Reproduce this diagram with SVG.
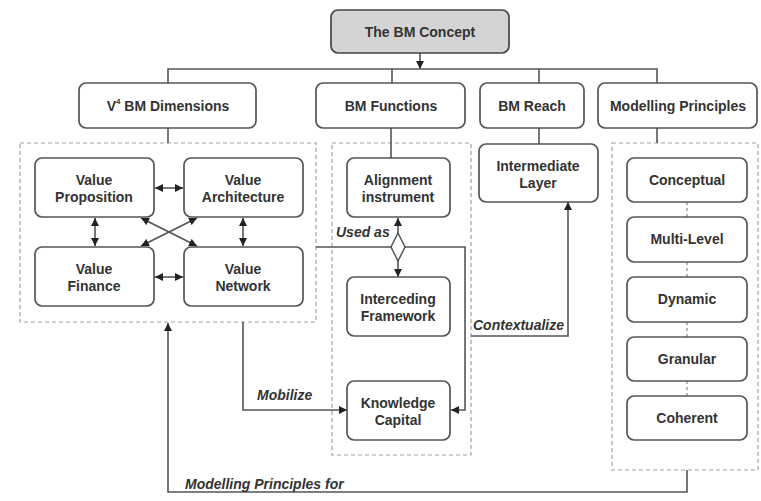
<svg xmlns="http://www.w3.org/2000/svg" width="761" height="501" viewBox="0 0 761 501">
  <defs>
    <style>
      .box { fill: #ffffff; stroke: #555555; stroke-width: 1.7; }
      .root { fill: #d4d4d4; stroke: #444444; stroke-width: 1.7; }
      .group { fill: none; stroke: #a0a0a0; stroke-width: 1.2; stroke-dasharray: 4 3; }
      .line { fill: none; stroke: #555555; stroke-width: 1.6; }
      .dash { fill: none; stroke: #888888; stroke-width: 1.2; stroke-dasharray: 3 3; }
      .lbl { font-family: "Liberation Sans", Arial, sans-serif; font-weight: bold; font-size: 14px; fill: #333333; text-anchor: middle; }
      .edge { font-family: "Liberation Sans", Arial, sans-serif; font-weight: bold; font-style: italic; font-size: 14px; fill: #333333; }
    </style>
    <marker id="arr" viewBox="0 0 10 10" refX="10" refY="5" markerWidth="8" markerHeight="8" orient="auto-start-reverse" markerUnits="userSpaceOnUse">
      <path d="M0,0 L10,5 L0,10 z" fill="#222222"/>
    </marker>
  </defs>

  <!-- group frames -->
  <rect class="group" x="20" y="143" width="296" height="179"/>
  <rect class="group" x="332" y="143" width="139" height="312"/>
  <rect class="group" x="612" y="143" width="146" height="327"/>

  <!-- connectors -->
  <g id="connectors">
    <line class="line" x1="420" y1="53" x2="420" y2="69" marker-end="url(#arr)"/>
    <polyline class="line" points="168,83 168,69 657,69 657,83"/>
    <line class="line" x1="392" y1="69" x2="392" y2="83"/>
    <line class="line" x1="539" y1="69" x2="539" y2="83"/>
    <line class="line" x1="168" y1="128" x2="168" y2="143"/>
    <line class="line" x1="391" y1="128" x2="391" y2="158"/>
    <line class="line" x1="539" y1="128" x2="539" y2="144"/>
    <line class="line" x1="657" y1="128" x2="657" y2="143"/>

    <!-- value dimension links -->
    <line class="line" x1="155" y1="188" x2="183" y2="188" marker-start="url(#arr)" marker-end="url(#arr)"/>
    <line class="line" x1="155" y1="277" x2="183" y2="277" marker-start="url(#arr)" marker-end="url(#arr)"/>
    <line class="line" x1="95" y1="218" x2="95" y2="246" marker-start="url(#arr)" marker-end="url(#arr)"/>
    <line class="line" x1="243" y1="218" x2="243" y2="246" marker-start="url(#arr)" marker-end="url(#arr)"/>
    <line class="line" x1="141" y1="218" x2="197" y2="246" marker-start="url(#arr)" marker-end="url(#arr)"/>
    <line class="line" x1="141" y1="246" x2="197" y2="218" marker-start="url(#arr)" marker-end="url(#arr)"/>

    <!-- used as -->
    <polyline class="line" points="316,247 465,247 465,410 451,410" marker-end="url(#arr)"/>
    <line class="line" x1="398" y1="234" x2="398" y2="218" marker-end="url(#arr)"/>
    <line class="line" x1="398" y1="260" x2="398" y2="277" marker-end="url(#arr)"/>
    <polygon points="398,233 405,247 398,261 391,247" fill="#ffffff" stroke="#555555" stroke-width="1.5"/>

    <!-- mobilize -->
    <polyline class="line" points="243,322 243,410 347,410" marker-end="url(#arr)"/>
    <!-- contextualize -->
    <polyline class="line" points="471,336 568,336 568,202" marker-end="url(#arr)"/>

    <!-- modelling principle chain -->
    <line class="dash" x1="687" y1="202" x2="687" y2="217"/>
    <line class="dash" x1="687" y1="262" x2="687" y2="277"/>
    <line class="dash" x1="687" y1="322" x2="687" y2="337"/>
    <line class="dash" x1="687" y1="381" x2="687" y2="396"/>

    <!-- modelling principles for -->
    <polyline class="line" points="687,470 687,492 168,492 168,323" marker-end="url(#arr)"/>

    <text class="edge" x="336" y="237">Used as</text>
    <text class="edge" x="257" y="400">Mobilize</text>
    <text class="edge" x="473" y="330">Contextualize</text>
    <text class="edge" x="185" y="489">Modelling Principles for</text>
  </g>

  <g id="bm-concept">
    <rect class="root" x="331" y="10" width="178" height="43" rx="7"/>
    <text class="lbl" x="420" y="37">The BM Concept</text>
  </g>

  <g id="v4-dimensions">
    <rect class="box" x="79" y="83" width="177" height="45" rx="7"/>
    <text class="lbl" x="168" y="111">V<tspan font-size="8" dy="-7">4</tspan><tspan dy="7"> BM Dimensions</tspan></text>
  </g>
  <g id="bm-functions">
    <rect class="box" x="316" y="83" width="149" height="45" rx="7"/>
    <text class="lbl" x="391" y="111">BM Functions</text>
  </g>
  <g id="bm-reach">
    <rect class="box" x="480" y="83" width="104" height="45" rx="7"/>
    <text class="lbl" x="532" y="111">BM Reach</text>
  </g>
  <g id="modelling-principles">
    <rect class="box" x="598" y="83" width="159" height="45" rx="7"/>
    <text class="lbl" x="678" y="111">Modelling Principles</text>
  </g>

  <g id="value-proposition">
    <rect class="box" x="35" y="158" width="119" height="59" rx="7"/>
    <text class="lbl" x="94" y="185">Value</text>
    <text class="lbl" x="94" y="202">Proposition</text>
  </g>
  <g id="value-architecture">
    <rect class="box" x="184" y="158" width="119" height="59" rx="7"/>
    <text class="lbl" x="243" y="185">Value</text>
    <text class="lbl" x="243" y="202">Architecture</text>
  </g>
  <g id="value-finance">
    <rect class="box" x="35" y="247" width="119" height="59" rx="7"/>
    <text class="lbl" x="94" y="274">Value</text>
    <text class="lbl" x="94" y="291">Finance</text>
  </g>
  <g id="value-network">
    <rect class="box" x="184" y="247" width="119" height="59" rx="7"/>
    <text class="lbl" x="243" y="274">Value</text>
    <text class="lbl" x="243" y="291">Network</text>
  </g>

  <g id="alignment-instrument">
    <rect class="box" x="347" y="158" width="103" height="59" rx="7"/>
    <text class="lbl" x="398" y="185">Alignment</text>
    <text class="lbl" x="398" y="202">instrument</text>
  </g>
  <g id="interceding-framework">
    <rect class="box" x="347" y="277" width="103" height="59" rx="7"/>
    <text class="lbl" x="398" y="304">Interceding</text>
    <text class="lbl" x="398" y="321">Framework</text>
  </g>
  <g id="knowledge-capital">
    <rect class="box" x="347" y="381" width="103" height="59" rx="7"/>
    <text class="lbl" x="398" y="408">Knowledge</text>
    <text class="lbl" x="398" y="425">Capital</text>
  </g>

  <g id="intermediate-layer">
    <rect class="box" x="479" y="144" width="119" height="58" rx="7"/>
    <text class="lbl" x="538" y="171">Intermediate</text>
    <text class="lbl" x="538" y="188">Layer</text>
  </g>

  <g id="conceptual">
    <rect class="box" x="627" y="158" width="120" height="44" rx="7"/>
    <text class="lbl" x="687" y="185">Conceptual</text>
  </g>
  <g id="multi-level">
    <rect class="box" x="627" y="217" width="120" height="45" rx="7"/>
    <text class="lbl" x="687" y="244">Multi-Level</text>
  </g>
  <g id="dynamic">
    <rect class="box" x="627" y="277" width="120" height="45" rx="7"/>
    <text class="lbl" x="687" y="304">Dynamic</text>
  </g>
  <g id="granular">
    <rect class="box" x="627" y="337" width="120" height="44" rx="7"/>
    <text class="lbl" x="687" y="364">Granular</text>
  </g>
  <g id="coherent">
    <rect class="box" x="627" y="396" width="120" height="44" rx="7"/>
    <text class="lbl" x="687" y="423">Coherent</text>
  </g>
</svg>
